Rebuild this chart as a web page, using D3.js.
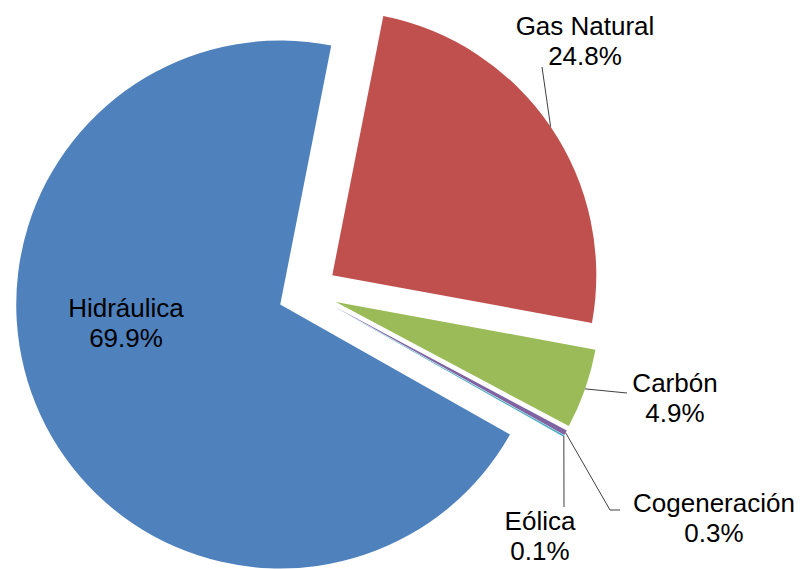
<!DOCTYPE html>
<html>
<head>
<meta charset="utf-8">
<script src="https://cdn.jsdelivr.net/npm/d3@7"></script>
<style>
  html, body { margin: 0; padding: 0; background: #fff; }
  svg { display: block; }
  text { font-family: "Liberation Sans", Arial, sans-serif; font-size: 26px; fill: #000; }
</style>
</head>
<body>
<svg id="chart" width="803" height="569"></svg>
<script>
// ---- data ----
const categories = ["Hidráulica", "Gas Natural", "Carbón", "Cogeneración", "Eólica"];
const values = [69.9, 24.8, 4.9, 0.3, 0.1];
const colors = ["#4F81BD", "#C0504D", "#9BBB59", "#8064A2", "#4BACC6"];

// ---- layout ----
const W = 803, H = 569;
const cx = 307.5, cy = 292, R = 264, explode = 30;
const startDeg = 119.5;
// label text centre (x) and first baseline (y); leader end points (null = none)
const labelLayout = [
  { x: 126, y: 317, leader: null },
  { x: 585, y: 35,  leader: [[542, 67]] },
  { x: 675, y: 392, leader: [[627, 393]] },
  { x: 714, y: 512, leader: [[610, 510], [620, 510]] },
  { x: 540, y: 530, leader: [[564, 507]] }
];

const svg = d3.select("#chart");
const data = categories.map((c, i) => ({ name: c, value: values[i], color: colors[i], i }));

const pie = d3.pie().sort(null).value(d => d.value)
  .startAngle(startDeg * Math.PI / 180)
  .endAngle(startDeg * Math.PI / 180 + 2 * Math.PI);
const arcs = pie(data);
const arc = d3.arc().innerRadius(0).outerRadius(R);

const g = svg.append("g").attr("transform", `translate(${cx},${cy})`);

function mid(a) { return (a.startAngle + a.endAngle) / 2; }
function offset(a) {
  const m = mid(a);
  return [explode * Math.sin(m), -explode * Math.cos(m)];
}

g.selectAll("path.slice").data(arcs).enter().append("path")
  .attr("class", "slice")
  .attr("d", arc)
  .attr("fill", d => d.data.color)
  .attr("transform", d => { const o = offset(d); return `translate(${o[0]},${o[1]})`; });

// leader lines
arcs.forEach((a, i) => {
  const L = labelLayout[i];
  if (!L.leader) return;
  const m = mid(a);
  const p0 = [cx + (R + explode) * Math.sin(m), cy - (R + explode) * Math.cos(m)];
  const pts = [p0].concat(L.leader);
  svg.append("path")
    .attr("d", d3.line()(pts))
    .attr("fill", "none")
    .attr("stroke", "#404040")
    .attr("stroke-width", 1);
});

// labels
arcs.forEach((a, i) => {
  const L = labelLayout[i];
  const t = svg.append("text").attr("text-anchor", "middle");
  t.append("tspan").attr("x", L.x).attr("y", L.y).text(a.data.name);
  t.append("tspan").attr("x", L.x).attr("y", L.y + 30).text(d3.format(".1f")(a.data.value) + "%");
});
</script>
</body>
</html>
